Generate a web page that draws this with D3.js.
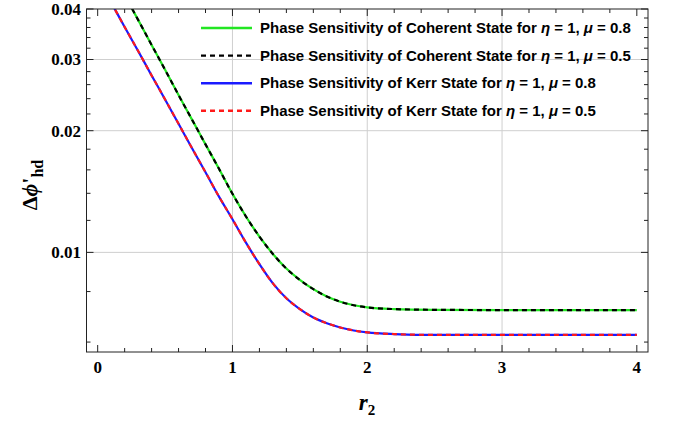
<!DOCTYPE html>
<html>
<head>
<meta charset="utf-8">
<script src="https://cdn.jsdelivr.net/npm/d3@7"></script>
<style>
  body { margin: 0; background: #fff; }
  svg { display: block; }
</style>
</head>
<body>
<div id="plot-container"></div>
<script>
// r2 sample positions
const r2 = [0, 0.1, 0.2, 0.3, 0.4, 0.5, 0.6, 0.7, 0.8, 0.9, 1.0, 1.1, 1.2, 1.3, 1.4, 1.5, 1.6, 1.7, 1.8, 1.9, 2.0, 2.2, 2.5, 3.0, 3.5, 4.0];

// phase sensitivity values
const coherent08 = [0.0574, 0.0499, 0.0433, 0.0376, 0.0326, 0.0283, 0.0245, 0.0213, 0.0185, 0.0161, 0.01396, 0.01227, 0.01094, 0.00991, 0.00912, 0.00855, 0.00811, 0.00778, 0.00755, 0.0074, 0.00731, 0.00724, 0.00721, 0.0072, 0.0072, 0.0072];
const coherent05 = [0.0574, 0.0499, 0.0433, 0.0376, 0.0326, 0.0283, 0.0245, 0.0213, 0.0185, 0.0161, 0.01396, 0.01227, 0.01094, 0.00991, 0.00912, 0.00855, 0.00811, 0.00778, 0.00755, 0.0074, 0.00731, 0.00724, 0.00721, 0.0072, 0.0072, 0.0072];
const kerr08 = [0.0476, 0.0415, 0.0361, 0.0315, 0.0274, 0.0239, 0.0208, 0.0181, 0.01578, 0.01374, 0.01208, 0.01057, 0.00935, 0.00838, 0.0077, 0.00724, 0.0069, 0.00668, 0.00652, 0.00641, 0.00634, 0.00628, 0.00625, 0.00625, 0.00625, 0.00625];
const kerr05 = [0.0476, 0.0415, 0.0361, 0.0315, 0.0274, 0.0239, 0.0208, 0.0181, 0.01578, 0.01374, 0.01208, 0.01057, 0.00935, 0.00838, 0.0077, 0.00724, 0.0069, 0.00668, 0.00652, 0.00641, 0.00634, 0.00628, 0.00625, 0.00625, 0.00625, 0.00625];

const legendLabels = [
  ["Phase Sensitivity of Coherent State for ", "η", " = 1, ", "μ", " = 0.8"],
  ["Phase Sensitivity of Coherent State for ", "η", " = 1, ", "μ", " = 0.5"],
  ["Phase Sensitivity of Kerr State for ", "η", " = 1, ", "μ", " = 0.8"],
  ["Phase Sensitivity of Kerr State for ", "η", " = 1, ", "μ", " = 0.5"]
];

const xTicks = [0, 1, 2, 3, 4];
const yTicks = [0.01, 0.02, 0.03, 0.04];
const yMinor = [0.006, 0.008, 0.012, 0.014, 0.016, 0.018, 0.022, 0.024, 0.026, 0.028, 0.032, 0.034, 0.036, 0.038];
const xMinor = d3.range(0, 4.01, 0.2).filter(v => Math.abs(v - Math.round(v)) > 1e-6);

const series = [
  { values: coherent08, color: "#22e622", dash: null },
  { values: coherent05, color: "#000000", dash: "5,4" },
  { values: kerr08, color: "#1a1aff", dash: null },
  { values: kerr05, color: "#ff1a1a", dash: "5,4" }
];

const W = 678, H = 424;
const plot = { left: 86.5, right: 648, top: 9, bottom: 352 };

const svg = d3.select("#plot-container")
  .append("svg")
  .attr("width", W)
  .attr("height", H);

const x = d3.scaleLinear().domain([-0.083, 4.083]).range([plot.left, plot.right]);
const y = d3.scaleLog().domain([0.00567, 0.04]).range([plot.bottom, plot.top]);

// grid lines
svg.append("g")
  .selectAll("line")
  .data([1, 2, 3])
  .enter().append("line")
  .attr("x1", d => x(d)).attr("x2", d => x(d))
  .attr("y1", plot.top).attr("y2", plot.bottom)
  .attr("stroke", "#cfcfcf").attr("stroke-width", 1);

svg.append("g")
  .selectAll("line")
  .data([0.01, 0.02, 0.03])
  .enter().append("line")
  .attr("x1", plot.left).attr("x2", plot.right)
  .attr("y1", d => y(d)).attr("y2", d => y(d))
  .attr("stroke", "#cfcfcf").attr("stroke-width", 1);

// curves
svg.append("clipPath").attr("id", "clip")
  .append("rect")
  .attr("x", plot.left).attr("y", plot.top)
  .attr("width", plot.right - plot.left).attr("height", plot.bottom - plot.top);

const line = d3.line()
  .x((d, i) => x(r2[i]))
  .y(d => y(d))
  .curve(d3.curveMonotoneX);

svg.append("g").attr("clip-path", "url(#clip)")
  .selectAll("path")
  .data(series)
  .enter().append("path")
  .attr("d", d => line(d.values))
  .attr("fill", "none")
  .attr("stroke", d => d.color)
  .attr("stroke-width", 2.2)
  .attr("stroke-dasharray", d => d.dash);

// frame with inward ticks
const frame = svg.append("g").attr("stroke", "#222").attr("stroke-width", 1);
frame.append("rect")
  .attr("x", plot.left).attr("y", plot.top)
  .attr("width", plot.right - plot.left).attr("height", plot.bottom - plot.top)
  .attr("fill", "none");

function xTick(v, len) {
  frame.append("line").attr("x1", x(v)).attr("x2", x(v)).attr("y1", plot.bottom).attr("y2", plot.bottom - len);
  frame.append("line").attr("x1", x(v)).attr("x2", x(v)).attr("y1", plot.top).attr("y2", plot.top + len);
}
function yTick(v, len) {
  frame.append("line").attr("y1", y(v)).attr("y2", y(v)).attr("x1", plot.left).attr("x2", plot.left + len);
  frame.append("line").attr("y1", y(v)).attr("y2", y(v)).attr("x1", plot.right).attr("x2", plot.right - len);
}
xTicks.forEach(v => xTick(v, 7));
xMinor.forEach(v => xTick(v, 4));
yTicks.forEach(v => yTick(v, 7));
yMinor.forEach(v => yTick(v, 4));

// tick labels
svg.append("g")
  .selectAll("text")
  .data(xTicks)
  .enter().append("text")
  .attr("x", d => x(d))
  .attr("y", 373)
  .attr("text-anchor", "middle")
  .style("font-family", "'Liberation Serif', 'Times New Roman', serif")
  .style("font-weight", "bold")
  .style("font-size", "17px")
  .text(d => d);

svg.append("g")
  .selectAll("text")
  .data(yTicks)
  .enter().append("text")
  .attr("x", 81)
  .attr("y", d => y(d))
  .attr("dy", "0.35em")
  .attr("text-anchor", "end")
  .style("font-family", "'Liberation Serif', 'Times New Roman', serif")
  .style("font-weight", "bold")
  .style("font-size", "17px")
  .text(d => d);

// axis titles
const xt = svg.append("text")
  .attr("x", 367)
  .attr("y", 410)
  .attr("text-anchor", "middle")
  .style("font-family", "'Liberation Serif', 'Times New Roman', serif")
  .style("font-weight", "bold")
  .style("font-size", "23px");
xt.append("tspan").style("font-style", "italic").text("r");
xt.append("tspan").attr("dy", 5).style("font-size", "15px").text("2");

const yt = svg.append("text")
  .attr("transform", "translate(37,185) rotate(-90)")
  .attr("text-anchor", "middle")
  .style("font-family", "'Liberation Serif', 'Times New Roman', serif")
  .style("font-weight", "bold")
  .style("font-size", "22px");
yt.append("tspan").text("Δ");
yt.append("tspan").style("font-style", "italic").text("ϕ");
yt.append("tspan").text("'");
yt.append("tspan").attr("dy", 6).style("font-size", "16px").text("hd");

// legend
const legend = svg.selectAll(".legend")
  .data(series)
  .enter().append("g")
  .attr("class", "legend")
  .attr("transform", (d, i) => "translate(201," + (28 + i * 27.6) + ")");

legend.append("line")
  .attr("x1", 0).attr("x2", 51)
  .attr("y1", 0).attr("y2", 0)
  .attr("stroke", d => d.color)
  .attr("stroke-width", 2.4)
  .attr("stroke-dasharray", d => d.dash);

const lt = legend.append("text")
  .attr("x", 59)
  .attr("y", 0)
  .attr("dy", "0.35em")
  .style("font-family", "'Liberation Sans', Arial, sans-serif")
  .style("font-weight", "bold")
  .style("font-size", "15px");

lt.each(function(d, i) {
  const t = d3.select(this);
  legendLabels[i].forEach((part, j) => {
    t.append("tspan")
      .style("font-style", j === 1 || j === 3 ? "italic" : "normal")
      .text(part);
  });
});
</script>
</body>
</html>
